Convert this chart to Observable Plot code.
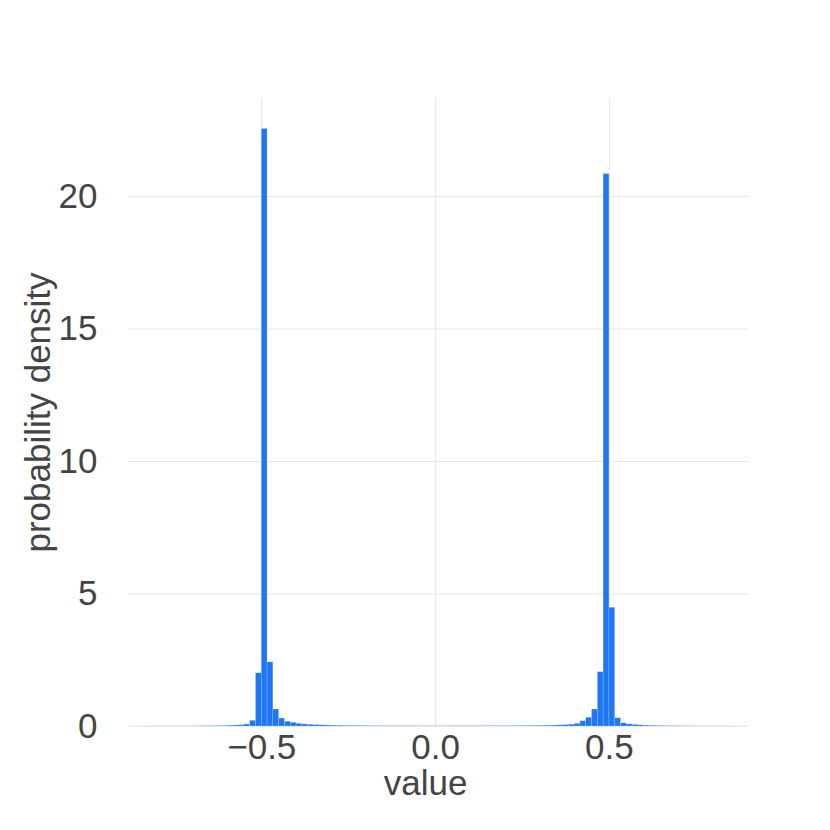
<!DOCTYPE html>
<html>
<head>
<meta charset="utf-8">
<script src="https://cdn.jsdelivr.net/npm/d3@7"></script>
<script src="https://cdn.jsdelivr.net/npm/@observablehq/plot@0.6"></script>
<style>
  html, body { margin: 0; padding: 0; background: #fff; }
  #chart { width: 830px; height: 830px; }
</style>
</head>
<body>
<div id="chart"></div>
<script>
// Histogram bins: regular bins of width 1/60, first bin starts at -53/60
const binWidth = 1 / 60;
const binStart = -53 / 60;
// Probability density per bin, bins 0..106
const densities = [
  // left tail (bins 0-19)
  0.003, 0.003, 0.004, 0.004, 0.005, 0.005, 0.006, 0.006, 0.007, 0.008,
  0.009, 0.010, 0.012, 0.014, 0.016, 0.019, 0.023, 0.030, 0.040, 0.050,
  // left peak (bins 20-29)
  0.075, 0.215, 2.01, 22.55, 2.42, 0.64, 0.30, 0.18, 0.14, 0.10,
  // middle (bins 30-76)
  0.080, 0.065, 0.055, 0.047, 0.040, 0.035, 0.031, 0.028, 0.025, 0.023,
  0.021, 0.019, 0.018, 0.017, 0.016, 0.015, 0.015, 0.014, 0.014, 0.014,
  0.013, 0.013, 0.013, 0.013, 0.013, 0.013, 0.014, 0.014, 0.015, 0.015,
  0.016, 0.016, 0.017, 0.017, 0.018, 0.018, 0.019, 0.019, 0.021, 0.023,
  0.026, 0.029, 0.033, 0.038, 0.045, 0.055, 0.070,
  // right peak (bins 77-86)
  0.10, 0.20, 0.33, 0.64, 2.05, 20.85, 4.48, 0.31, 0.12, 0.08,
  // right tail (bins 87-106)
  0.060, 0.045, 0.035, 0.028, 0.023, 0.019, 0.016, 0.014, 0.012, 0.010,
  0.009, 0.008, 0.007, 0.006, 0.006, 0.005, 0.005, 0.004, 0.004, 0.003
];

const xTicks = [-0.5, 0, 0.5];
const yTicks = [0, 5, 10, 15, 20];
const xLabel = "value";
const yLabel = "probability density";

const bins = densities.map((d, i) => ({
  x1: binStart + i * binWidth,
  x2: binStart + (i + 1) * binWidth,
  density: d
}));

const textColor = "#444";
const gridColor = "#e6e6e6";
const fs = 35;

const chart = Plot.plot({
  width: 830,
  height: 830,
  marginLeft: 128,
  marginRight: 82,
  marginTop: 98,
  marginBottom: 104,
  style: { fontFamily: "'Liberation Sans', Arial, sans-serif", background: "#fff" },
  x: { domain: [binStart, 0.9] },
  y: { domain: [0, 23.7] },
  marks: [
    Plot.gridX(xTicks, { stroke: gridColor, strokeOpacity: 1, strokeWidth: 1 }),
    Plot.gridY(yTicks.filter(d => d > 0), { stroke: gridColor, strokeOpacity: 1, strokeWidth: 1 }),
    Plot.ruleY([0], { stroke: gridColor, strokeWidth: 1 }),
    Plot.rectY(bins, {
      x1: "x1", x2: "x2", y: "density",
      fill: "#1f77f4", stroke: "#ffffff", strokeWidth: 0.5, strokeOpacity: 0.35, inset: 0
    }),
    Plot.axisX(xTicks, {
      tickSize: 0, tickPadding: 8, fontSize: fs, fill: textColor, label: null,
      tickFormat: d => d3.format(".1f")(d)
    }),
    Plot.axisY(yTicks, {
      tickSize: 0, tickPadding: 31, fontSize: fs, fill: textColor, label: null,
      tickFormat: d => String(d)
    }),
    Plot.text([xLabel], {
      frameAnchor: "bottom", dy: 57, dx: -13, fontSize: fs, fill: textColor,
      lineAnchor: "middle", textAnchor: "middle"
    }),
    Plot.text([yLabel], {
      frameAnchor: "left", dx: -90, rotate: -90, fontSize: fs, fill: textColor,
      lineAnchor: "middle", textAnchor: "middle"
    })
  ]
});

document.getElementById("chart").appendChild(chart);
</script>
</body>
</html>
